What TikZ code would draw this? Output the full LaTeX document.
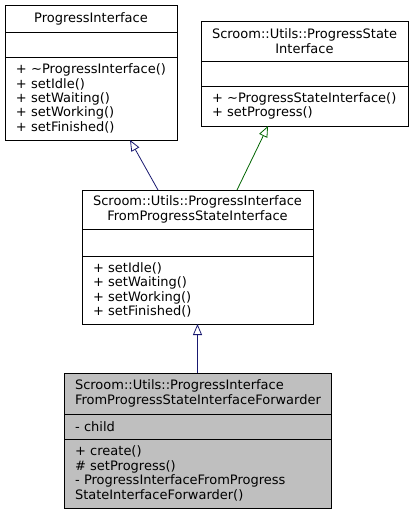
\documentclass[tikz,border=0pt]{standalone}
\usepackage{fontspec}
\setmainfont{DejaVu Sans}
\usetikzlibrary{arrows.meta}
\definecolor{inheritblue}{HTML}{191970}
\definecolor{inheritgreen}{HTML}{006400}
\definecolor{boxgray}{HTML}{BFBFBF}

\begin{document}
\begin{tikzpicture}[
    x=1pt, y=-1pt,
    font=\fontsize{13}{14.4}\selectfont,
    part/.style={draw, anchor=north west, inner xsep=11pt, inner ysep=0pt, outer sep=0pt, line width=0.8pt},
    head/.style={part, align=center, text width=#1},
    lefthead/.style={part, align=left, text width=#1},
    body/.style={part, align=left, text width=#1},
    inherit/.style={-{Triangle[open, length=11pt, width=9pt]}, line width=0.8pt},
]
\useasboundingbox (0,0) rectangle (413,515);

% ProgressInterface
\node[head=150pt, minimum height=27pt] (pi) at (5,5) {ProgressInterface};
\node[body=150pt, minimum height=25pt] (pi-attr) at (pi.south west) {};
\node[body=150pt, minimum height=83pt] (pi-ops) at (pi-attr.south west)
    {+ \textasciitilde ProgressInterface()\\+ setIdle()\\+ setWaiting()\\+ setWorking()\\+ setFinished()};

% Scroom::Utils::ProgressStateInterface
\node[head=185pt, minimum height=40pt] (psi) at (201,21) {Scroom::Utils::ProgressState\\Interface};
\node[body=185pt, minimum height=25pt] (psi-attr) at (psi.south west) {};
\node[body=185pt, minimum height=40pt] (psi-ops) at (psi-attr.south west)
    {+ \textasciitilde ProgressStateInterface()\\+ setProgress()};

% Scroom::Utils::ProgressInterfaceFromProgressStateInterface
\node[head=209pt, minimum height=39pt] (pifpsi) at (82,190) {Scroom::Utils::ProgressInterface\\FromProgressStateInterface};
\node[body=209pt, minimum height=27pt] (pifpsi-attr) at (pifpsi.south west) {};
\node[body=209pt, minimum height=68pt] (pifpsi-ops) at (pifpsi-attr.south west)
    {+ setIdle()\\+ setWaiting()\\+ setWorking()\\+ setFinished()};

% Forwarder (highlighted)
\node[lefthead=245pt, fill=boxgray, minimum height=41pt] (fwd) at (64,373) {Scroom::Utils::ProgressInterface\\FromProgressStateInterfaceForwarder};
\node[body=245pt, fill=boxgray, minimum height=25pt] (fwd-attr) at (fwd.south west) {- child};
\node[body=245pt, fill=boxgray, minimum height=69pt] (fwd-ops) at (fwd-attr.south west)
    {+ create()\\\# setProgress()\\- ProgressInterfaceFromProgress\\StateInterfaceForwarder()};

% Inheritance
\draw[inherit, inheritblue] ([xshift=76pt]pifpsi.north west) -- ([xshift=125pt]pi-ops.south west);
\draw[inherit, inheritgreen] ([xshift=155pt]pifpsi.north west) -- ([xshift=67pt]psi-ops.south west);
\draw[inherit, inheritblue] (fwd.north) -- (pifpsi-ops.south);

\end{tikzpicture}
\end{document}
